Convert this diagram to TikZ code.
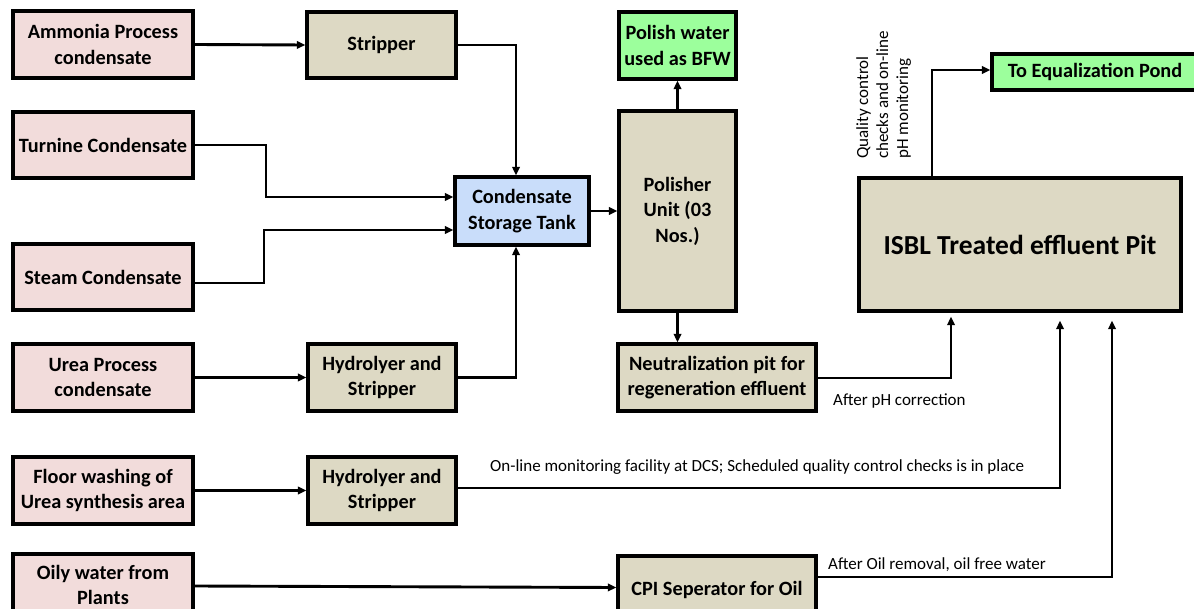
\documentclass[tikz,border=0pt]{standalone}
\usepackage{fontspec}
\setmainfont{Carlito}
\usetikzlibrary{arrows.meta}
\definecolor{pinkfill}{HTML}{F2DCDB}
\definecolor{tanfill}{HTML}{DDD9C4}
\definecolor{bluefill}{HTML}{C9DDFA}
\definecolor{greenfill}{HTML}{9CFF9C}
\tikzset{
  box/.style={draw=black, line width=3.4pt, align=center, inner sep=0pt,
    font=\bfseries\fontsize{20.3}{25.5}\selectfont},
  srcbox/.style={box, fill=pinkfill},
  procbox/.style={box, fill=tanfill},
  tankbox/.style={box, fill=bluefill},
  outbox/.style={box, fill=greenfill},
  conn/.style={line width=2.9pt},
  arr/.style={conn, -{Triangle[length=8.5pt,width=7.5pt]}},
  lbl/.style={font=\fontsize{17}{20}\selectfont, inner sep=0pt, align=left}
}
\begin{document}
\begin{tikzpicture}[x=1pt,y=-1pt]
\useasboundingbox (0,0) rectangle (1194,609);
% source boxes
\node[srcbox, minimum width=180pt, minimum height=67pt] (amm) at (103,44.5) {Ammonia Process\\condensate};
\node[srcbox, minimum width=180pt, minimum height=66pt] (tur) at (103,145) {Turnine Condensate};
\node[srcbox, minimum width=180pt, minimum height=66pt] (steam) at (103,277) {Steam Condensate};
\node[srcbox, minimum width=180pt, minimum height=67pt] (urea) at (103,377.5) {Urea Process\\condensate};
\node[srcbox, minimum width=180pt, minimum height=67pt] (floor) at (103,490.5) {Floor washing of\\Urea synthesis area};
\node[srcbox, minimum width=180pt, minimum height=62pt] (oily) at (103,585) {Oily water from\\Plants};
% process boxes
\node[procbox, minimum width=149pt, minimum height=66pt] (strip) at (381.5,45) {Stripper};
\node[procbox, minimum width=148pt, minimum height=67pt] (hyd1) at (382,377.5) {Hydrolyer and\\Stripper};
\node[procbox, minimum width=148pt, minimum height=67pt] (hyd2) at (382,490.5) {Hydrolyer and\\Stripper};
\node[tankbox, minimum width=134pt, minimum height=68pt] (tk) at (522,211) {Condensate\\Storage Tank};
\node[procbox, minimum width=117pt, minimum height=200pt] (pol) at (677.5,211) {Polisher\\Unit (03\\Nos.)};
\node[outbox, minimum width=117pt, minimum height=67pt] (pw) at (677.5,45.5) {Polish water\\used as BFW};
\node[procbox, minimum width=198pt, minimum height=67pt] (neu) at (717,377.5) {Neutralization pit for\\regeneration effluent};
\node[procbox, minimum width=198pt, minimum height=67pt] (cpi) at (717,589.5) {CPI Seperator for Oil};
\node[procbox, minimum width=322pt, minimum height=133pt, font=\bfseries\fontsize{27.5}{32}\selectfont] (isbl) at (1020,244.5) {ISBL Treated effluent Pit};
\node[outbox, minimum width=206pt, minimum height=36pt] (eq) at (1095,72) {To Equalization Pond};
% connectors
\draw[arr] (amm.east) -- (strip.west);
\draw[arr] (strip.east) -| ([xshift=-6pt]tk.north);
\draw[arr] (tur.east) -- (266,145) |- ([yshift=14pt]tk.west);
\draw[arr] ([yshift=-6pt]steam.east) -- (264,283) |- ([yshift=-19pt]tk.west);
\draw[arr] (urea.east) -- (hyd1.west);
\draw[arr] (hyd1.east) -| ([xshift=-6pt]tk.south);
\draw[arr] (tk.east) -- (pol.west);
\draw[arr] (pol.north) -- (pw.south);
\draw[arr] (pol.south) -- (pol.south |- neu.north);
\draw[arr] (floor.east) -- (hyd2.west);
\draw[arr] ([yshift=-1pt]oily.east) -- ([yshift=2pt]cpi.west);
\draw[arr] ([yshift=-0.5pt]neu.east) -| ([xshift=-69pt,yshift=-4pt]isbl.south);
\draw[arr] ([yshift=2.5pt]hyd2.east) -| ([xshift=40pt,yshift=-8pt]isbl.south);
\draw[arr] ([yshift=12.5pt]cpi.east) -| ([xshift=92pt,yshift=-8pt]isbl.south);
\draw[arr] ([xshift=-88pt]isbl.north) |- ([yshift=2pt]eq.west);
% labels
\node[lbl, anchor=west] (l1) at (833,401) {After pH correction};
\node[lbl, anchor=west] (l2) at (490,467) {On-line monitoring facility at DCS; Scheduled quality control checks is in place};
\node[lbl, anchor=west] (l3) at (828,565) {After Oil removal, oil free water};
\node[lbl, rotate=90, anchor=north west, font=\fontsize{17}{20}\selectfont] (l4) at (856,159) {Quality control\\checks and on-line\\pH monitoring};
\end{tikzpicture}
\end{document}
